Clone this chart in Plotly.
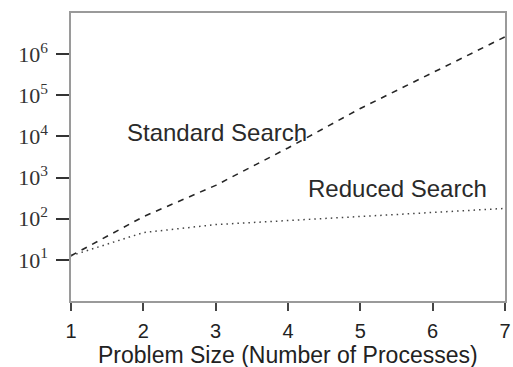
import plotly.graph_objects as go

# Problem size (number of processes)
processes = [1, 2, 3, 4, 5, 6, 7]

# Size of the explored search space for each strategy
standard_search = [12.6, 112, 646, 5250, 47900, 363000, 2630000]
reduced_search = [12.6, 46, 72, 91, 112, 141, 178]

# Decade ticks on the log axis
y_tick_vals = [1e1, 1e2, 1e3, 1e4, 1e5, 1e6]
y_tick_text = ["10<sup>1</sup>", "10<sup>2</sup>", "10<sup>3</sup>",
               "10<sup>4</sup>", "10<sup>5</sup>", "10<sup>6</sup>"]

x_title = "Problem Size (Number of Processes)"

sans = "Liberation Sans, Arial, Helvetica, sans-serif"
serif = "Liberation Serif, Times New Roman, serif"

fig = go.Figure()

fig.add_trace(go.Scatter(
    x=processes, y=standard_search, mode="lines",
    line=dict(color="#262626", width=1.6, dash="6px,6px"),
    showlegend=False, hoverinfo="skip",
))
fig.add_trace(go.Scatter(
    x=processes, y=reduced_search, mode="lines",
    line=dict(color="#444444", width=1.5, dash="1.5px,4px"),
    showlegend=False, hoverinfo="skip",
))

# Curve labels placed beside each line
fig.add_annotation(x=3.02, y=4.09, text="Standard Search", showarrow=False,
                   font=dict(family=sans, size=24, color="#2a2a2a"))
fig.add_annotation(x=5.52, y=2.74, text="Reduced Search", showarrow=False,
                   font=dict(family=sans, size=24, color="#2a2a2a"))

# Axis title sits low, right at the bottom edge of the figure
fig.add_annotation(x=0.5, y=0, xref="paper", yref="paper", yanchor="top",
                   yshift=-39, text=x_title, showarrow=False,
                   font=dict(family=sans, size=23, color="#222"))

fig.update_xaxes(
    range=[1, 7], tickvals=processes, ticks="outside", ticklen=8,
    tickwidth=1.5, tickcolor="#444", ticklabelstandoff=3,
    ticklabeloverflow="allow",
    tickfont=dict(family=sans, size=20, color="#222"),
    showline=True, linecolor="#9a9a9a", linewidth=1.5, mirror=True,
    showgrid=False, zeroline=False,
)
fig.update_yaxes(
    type="log", range=[0, 7], tickvals=y_tick_vals, ticktext=y_tick_text,
    ticks="outside", ticklen=13, tickwidth=2, tickcolor="#333",
    ticklabelstandoff=4,
    tickfont=dict(family=serif, size=22, color="#333"),
    showline=True, linecolor="#9a9a9a", linewidth=1.5, mirror=True,
    showgrid=False, zeroline=False,
)

fig.update_layout(
    width=513, height=367,
    margin=dict(l=71, r=2, t=13, b=66),
    paper_bgcolor="white", plot_bgcolor="white",
)

fig.write_html("out.html")
